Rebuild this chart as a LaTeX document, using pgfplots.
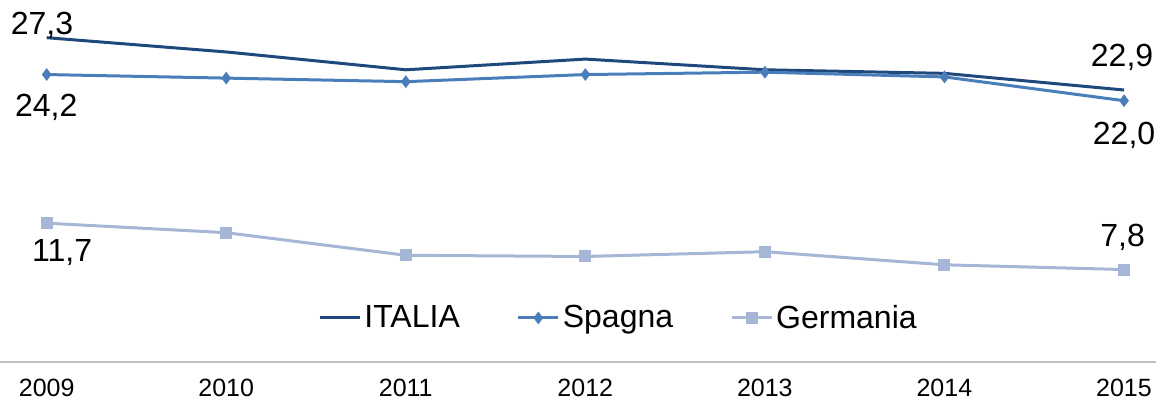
\documentclass[border=0pt]{standalone}
\usepackage{fontspec}
\setmainfont{Liberation Sans}
\usepackage{pgfplots}
\pgfplotsset{compat=1.18}
\definecolor{cIt}{HTML}{1F497D}
\definecolor{cSp}{HTML}{4A7EBB}
\definecolor{cGe}{HTML}{A5B6D6}
\definecolor{cAx}{HTML}{BFBFBF}
\begin{document}
\begin{tikzpicture}
\begin{axis}[name=ax, scale only axis, width=578pt, height=181.15pt,
 xmin=2008.74, xmax=2015.178, ymin=0, ymax=30.47,
 axis x line*=bottom, axis y line=none,
 x axis line style={draw=cAx, line width=1pt},
 xtick={2009,...,2015}, major tick length=0pt,
 /pgf/number format/1000 sep={}, /pgf/number format/assume math mode=true,
 xticklabel style={font=\fontsize{12.5}{14}\selectfont, yshift=-5pt},
 clip=false,
 legend columns=3,
 legend style={draw=none, fill=none, at={(rel axis cs:0.5355,0.1223)}, anchor=center,
   font=\fontsize{16}{19}\selectfont,
   /tikz/every even column/.append style={column sep=27pt}, nodes={inner sep=1.5pt}},
 legend image code/.code={\draw[mark repeat=2,mark phase=2,#1] plot coordinates {(0pt,0pt) (10pt,0pt) (20pt,0pt)};},
]
\addplot[cIt, line width=1.5pt, mark=none] coordinates {
 (2009,27.3) (2010,26.1) (2011,24.6) (2012,25.5) (2013,24.6) (2014,24.3) (2015,22.9)};
\addlegendentry{ITALIA}
\addplot[cSp, line width=1.5pt, mark=diamond*, mark size=2.8pt, mark options={solid, fill=cSp, draw=cSp, line width=0.5pt}] coordinates {
 (2009,24.2) (2010,23.9) (2011,23.6) (2012,24.2) (2013,24.4) (2014,24.0) (2015,22.0)};
\addlegendentry{Spagna}
\addplot[cGe, line width=1.5pt, mark=square*, mark size=2.75pt, mark options={solid, fill=cGe, draw=cGe, line width=0pt}] coordinates {
 (2009,11.7) (2010,10.9) (2011,9.0) (2012,8.9) (2013,9.3) (2014,8.2) (2015,7.8)};
\addlegendentry{Germania}
\begin{scope}[every node/.style={font=\fontsize{16}{19}\selectfont, anchor=base, inner sep=0pt}]
\node[xshift=-2.35pt, yshift=1.35pt] at (axis cs:2009,27.3) {27,3};
\node[xshift=-0.2pt, yshift=-21pt] at (axis cs:2009,24.2) {24,2};
\node[xshift=7.75pt, yshift=-19.35pt] at (axis cs:2009,11.7) {11,7};
\node[xshift=-1pt, yshift=11.65pt] at (axis cs:2015,22.9) {22,9};
\node[xshift=0pt, yshift=-21.65pt] at (axis cs:2015,22.0) {22,0};
\node[xshift=-0.75pt, yshift=11.75pt] at (axis cs:2015,7.8) {7,8};
\end{scope}
\end{axis}
\pgfresetboundingbox
\path (ax.south west) ++(0,-18.85pt) rectangle (ax.north east);
\end{tikzpicture}
\end{document}
